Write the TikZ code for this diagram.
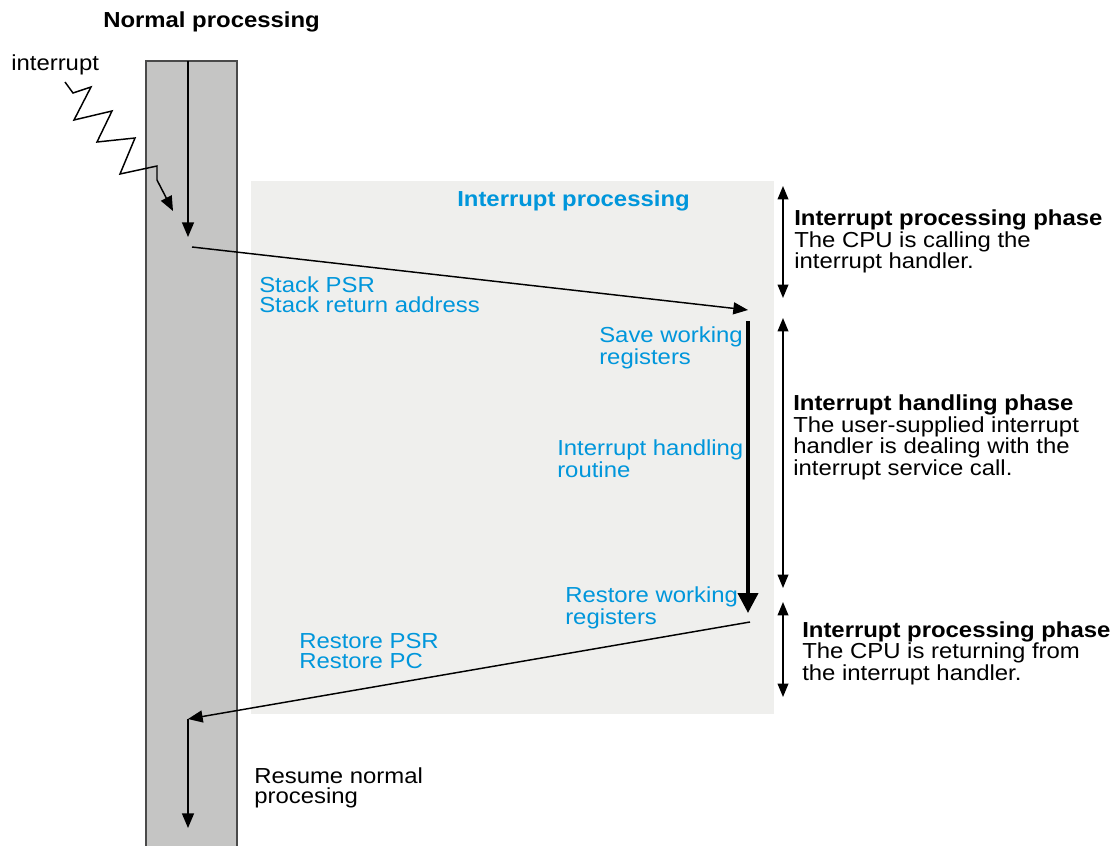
\documentclass[tikz,border=0pt]{standalone}
\usepackage{fontspec}
\setmainfont{Liberation Sans}[FakeStretch=1.1]
\usepackage{xcolor}
\usepackage{tikz}
\usetikzlibrary{arrows.meta}
\definecolor{procblue}{HTML}{0096DB}
\definecolor{column}{HTML}{C5C5C4}
\definecolor{coledge}{HTML}{4A4A4A}
\definecolor{panel}{HTML}{EFEFED}
\tikzset{
  every node/.style={inner sep=0pt, font=\fontsize{16.3pt}{15pt}\selectfont},
  flow/.style={line width=1.1pt, -{Triangle[length=11pt,width=9pt]}},
  span/.style={line width=1.1pt, {Triangle[length=10pt,width=8pt]}-{Triangle[length=10pt,width=8pt]}},
  bluelabel/.style={text=procblue, align=left, anchor=north west},
  phaselabel/.style={align=left, anchor=north west},
}

\begin{document}
\begin{tikzpicture}[x=0.75pt, y=-0.75pt]
\useasboundingbox (0,0) rectangle (1115,846);
% background column and panel
\fill[panel] (251,181) rectangle (774,714);
\draw[coledge, fill=column, line width=0.8pt] (146,846) -- (146,61) -- (237,61) -- (237,846);

% points for the flow
\coordinate (colTop) at (188,61);
\coordinate (irqHit) at (188,237);
\coordinate (callFrom) at (192,247);
\coordinate (callTo) at (748,310);
\coordinate (isrTop) at (748,321);
\coordinate (isrEnd) at (748,613);
\coordinate (retFrom) at (750,622);
\coordinate (retTo) at (188,719);
\coordinate (resumeEnd) at (188,828);
\coordinate (zigStart) at (65,82);
\coordinate (zigEnd) at (173,211);

% titles
\node[anchor=base west, font=\fontsize{16.3pt}{15pt}\selectfont\bfseries] (normal) at (103,27) {Normal processing};
\node[anchor=base west] (irq) at (11,70) {interrupt};
\node[anchor=base west, text=procblue, font=\fontsize{16.3pt}{15pt}\selectfont\bfseries] (intproc) at (457,206) {Interrupt processing};

% step labels
\node[bluelabel] (stack) at (259,276.5) {Stack PSR\\Stack return address};
\node[bluelabel] (save) at (599,326.5) {Save working\\registers};
\node[bluelabel] (routine) at (557,439.5) {Interrupt handling\\routine};
\node[bluelabel] (restwork) at (565,586.5) {Restore working\\registers};
\node[bluelabel] (restpsr) at (299,633.5) {Restore PSR\\Restore PC};
\node[phaselabel] (resume) at (254,767.5) {Resume normal\\procesing};

% phase labels
\node[phaselabel] (phaseA) at (794,209.5) {\textbf{Interrupt processing phase}\\The CPU is calling the\\interrupt handler.};
\node[phaselabel] (phaseB) at (793,394.5) {\textbf{Interrupt handling phase}\\The user-supplied interrupt\\handler is dealing with the\\interrupt service call.};
\node[phaselabel] (phaseC) at (802,621) {\textbf{Interrupt processing phase}\\The CPU is returning from\\the interrupt handler.};

% interrupt signal
\draw[flow, line join=miter] (zigStart) -- (73,93) -- (91,87) -- (74,120) -- (112,111) -- (97,142)
  -- (135,138) -- (120,174) -- (157,166) -- (157,180) -- (zigEnd);

% flow arrows
\draw[flow] (colTop) -- (irqHit);
\draw[flow] (callFrom) -- (callTo);
\draw[line width=3pt, -{Triangle[length=15pt,width=15pt]}] (isrTop) -- (isrEnd);
\draw[flow] (retFrom) -- (retTo);
\draw[flow] (retTo) -- (resumeEnd);

% phase spans
\coordinate (spanA1) at (783,186);
\coordinate (spanA2) at (783,298);
\coordinate (spanB1) at (783,318);
\coordinate (spanB2) at (783,588);
\coordinate (spanC1) at (783,602);
\coordinate (spanC2) at (783,697);
\draw[span] (spanA1) -- (spanA2);
\draw[span] (spanB1) -- (spanB2);
\draw[span] (spanC1) -- (spanC2);
\end{tikzpicture}
\end{document}
